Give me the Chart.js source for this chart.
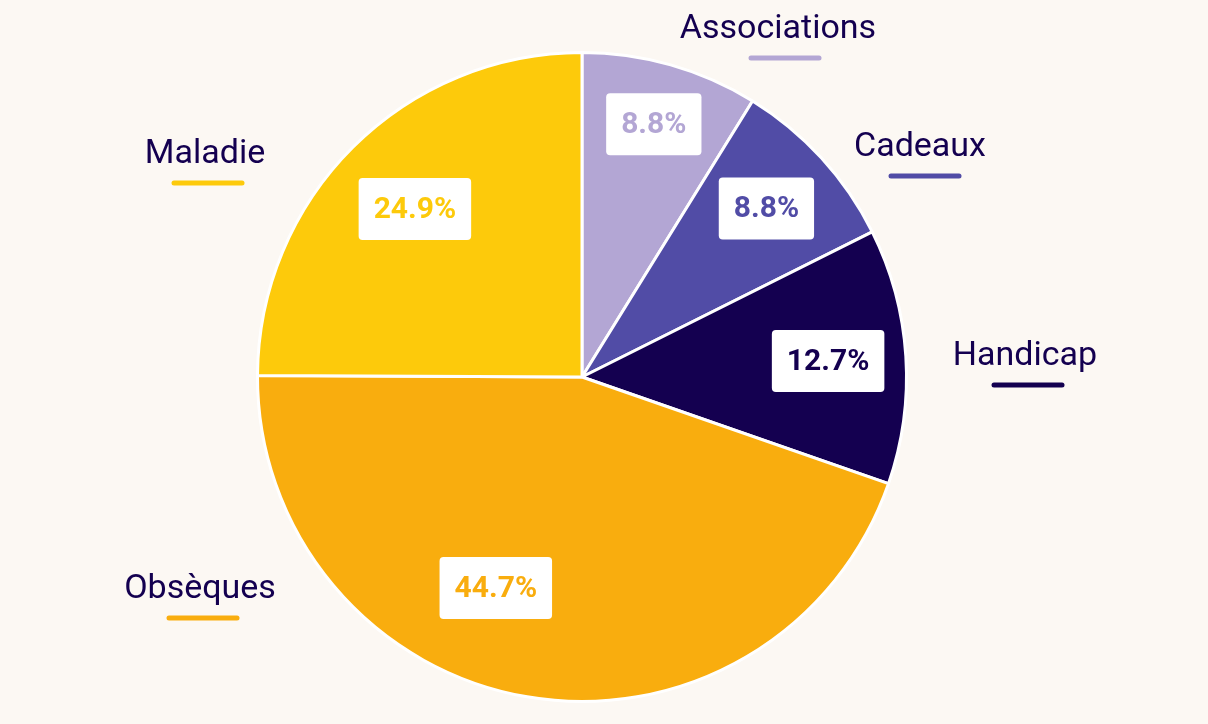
<!DOCTYPE html>
<html><head><meta charset="utf-8">
<script src="https://cdn.jsdelivr.net/npm/chart.js@4"></script>
<style>html,body{margin:0;padding:0;background:#fcf8f3}#w{width:1208px;height:724px}</style>
</head><body><div id="w"><canvas id="c" width="1208" height="724"></canvas></div>
<script>
const categories = ["Associations","Cadeaux","Handicap","Obsèques","Maladie"];
const values = [8.8, 8.8, 12.7, 44.7, 24.9];
const valueLabels = ["8.8%","8.8%","12.7%","44.7%","24.9%"];
const colors = ["#b3a6d4","#514ca6","#140050","#f9ad0e","#fdca0b"];
// label offsets relative to pie centre (style)
const outerPos = [[196,-348],[338,-230],[443,-21],[-382,212],[-377,-223]];
const innerR = [0.81,0.77,0.76,0.66,0.73];
const innerShift = [[0,0],[0,0],[0,0],[-50,0],[0,0]];

function rr(ctx,x,y,w,h,r){ctx.beginPath();ctx.moveTo(x+r,y);ctx.arcTo(x+w,y,x+w,y+h,r);ctx.arcTo(x+w,y+h,x,y+h,r);ctx.arcTo(x,y+h,x,y,r);ctx.arcTo(x,y,x+w,y,r);ctx.closePath();}

const labelsPlugin = {
  id:'lbl',
  afterDatasetsDraw(chart){
    const ctx = chart.ctx;
    const meta = chart.getDatasetMeta(0);
    meta.data.forEach((arc,i)=>{
      const p = arc.getProps(['x','y','startAngle','endAngle','outerRadius'],true);
      const mid = (p.startAngle+p.endAngle)/2;
      const r = p.outerRadius*innerR[i];
      const cx = p.x + Math.cos(mid)*r + innerShift[i][0];
      const cy = p.y + Math.sin(mid)*r + innerShift[i][1];
      ctx.save();
      ctx.font = "bold 30px Roboto";
      const tw = ctx.measureText(valueLabels[i]).width;
      const bw = tw+30, bh = 62;
      ctx.fillStyle = "#ffffff";
      rr(ctx,cx-bw/2,cy-bh/2,bw,bh,4); ctx.fill();
      ctx.fillStyle = colors[i];
      ctx.textAlign="center"; ctx.textBaseline="middle";
      ctx.fillText(valueLabels[i],cx,cy+1);
      // outer label
      const ox = p.x + outerPos[i][0], oy = p.y + outerPos[i][1];
      ctx.font = "34px Roboto";
      ctx.fillStyle = "#140050";
      ctx.fillText(categories[i],ox,oy);
      ctx.strokeStyle = colors[i]; ctx.lineWidth = 5; ctx.lineCap="round";
      ctx.beginPath(); ctx.moveTo(ox-34+ (i===0?7:i===1?5:i===2?3:3),oy+29); ctx.lineTo(ox+34+(i===0?7:i===1?5:i===2?3:3),oy+29); ctx.stroke();
      ctx.restore();
    });
  }
};

new Chart(document.getElementById('c'),{
  type:'pie',
  data:{labels:categories,datasets:[{data:values,backgroundColor:colors,borderColor:"#ffffff",borderWidth:3}]},
  options:{responsive:false,animation:false,
    layout:{padding:{left:256,right:300,top:50,bottom:20}},
    plugins:{legend:{display:false},tooltip:{enabled:false}}},
  plugins:[labelsPlugin]
});
</script></body></html>
